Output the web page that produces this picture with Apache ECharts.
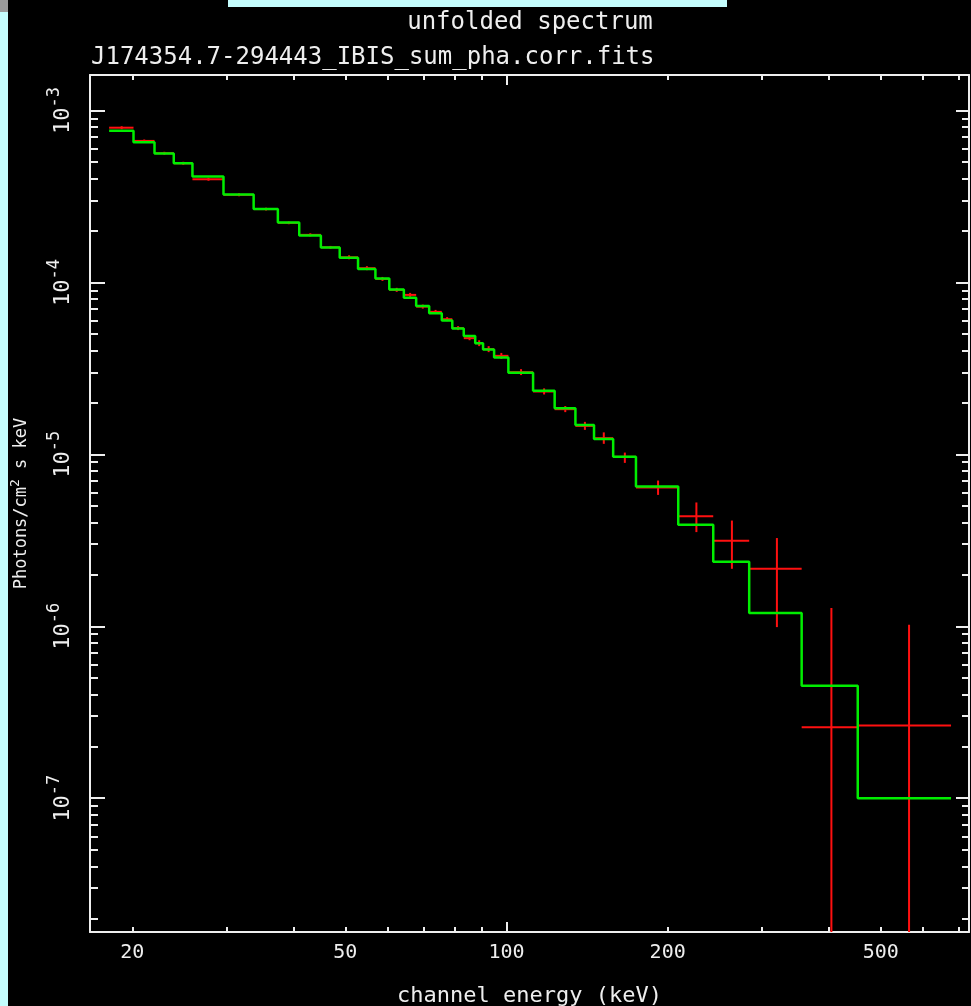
<!DOCTYPE html>
<html><head><meta charset="utf-8">
<script src="https://cdn.jsdelivr.net/npm/echarts@6/dist/echarts.min.js"></script>
<style>html,body{margin:0;padding:0;background:#000;}#c{width:971px;height:1006px;}</style>
</head><body><div id="c"></div>
<script>
// Energy bin edges (keV)
const binEdges = [18.1, 20.1, 22.0, 23.9, 25.9, 29.6, 33.7, 37.4, 41.0, 45.0, 48.8, 52.8, 56.9, 60.4, 64.3, 67.8, 71.7, 75.7, 79.2, 83.2, 87.4, 90.4, 94.8, 100.8, 112.1, 123.0, 134.5, 145.7, 158.2, 174.5, 209.3, 243.3, 284.0, 355.9, 453.0, 676.7];
// Model (green step line), photons/cm^2/s/keV per bin
const modelFlux = [7.63e-4, 6.53e-4, 5.62e-4, 4.93e-4, 4.13e-4, 3.25e-4, 2.675e-4, 2.233e-4, 1.876e-4, 1.598e-4, 1.393e-4, 1.195e-4, 1.052e-4, 9.10e-5, 8.13e-5, 7.30e-5, 6.62e-5, 6.00e-5, 5.40e-5, 4.886e-5, 4.43e-5, 4.07e-5, 3.66e-5, 2.985e-5, 2.34e-5, 1.851e-5, 1.480e-5, 1.227e-5, 9.67e-6, 6.50e-6, 3.89e-6, 2.37e-6, 1.193e-6, 4.51e-7, 1.0e-7];
// Data points (red crosses)
const dataFlux = [7.94e-4, 6.65e-4, 5.64e-4, 4.93e-4, 3.98e-4, 3.23e-4, 2.67e-4, 2.22e-4, 1.89e-4, 1.60e-4, 1.40e-4, 1.21e-4, 1.048e-4, 9.05e-5, 8.46e-5, 7.23e-5, 6.74e-5, 6.11e-5, 5.42e-5, 4.74e-5, 4.43e-5, 4.09e-5, 3.74e-5, 3.005e-5, 2.32e-5, 1.831e-5, 1.464e-5, 1.242e-5, 9.67e-6, 6.41e-6, 4.37e-6, 3.14e-6, 2.16e-6, 2.59e-7, 2.65e-7];
const dataLow = [7.78e-4, 6.52e-4, 5.53e-4, 4.83e-4, 3.90e-4, 3.17e-4, 2.62e-4, 2.18e-4, 1.85e-4, 1.57e-4, 1.363e-4, 1.178e-4, 1.020e-4, 8.81e-5, 8.24e-5, 7.04e-5, 6.56e-5, 5.95e-5, 5.28e-5, 4.61e-5, 4.26e-5, 3.93e-5, 3.59e-5, 2.89e-5, 2.23e-5, 1.76e-5, 1.388e-5, 1.151e-5, 8.92e-6, 5.81e-6, 3.53e-6, 2.16e-6, 9.89e-7, 1.0e-9, 1.0e-9];
const dataHigh = [8.10e-4, 6.78e-4, 5.75e-4, 5.03e-4, 4.06e-4, 3.30e-4, 2.72e-4, 2.26e-4, 1.93e-4, 1.63e-4, 1.438e-4, 1.243e-4, 1.076e-4, 9.30e-5, 8.69e-5, 7.43e-5, 6.92e-5, 6.28e-5, 5.57e-5, 4.87e-5, 4.61e-5, 4.26e-5, 3.89e-5, 3.13e-5, 2.42e-5, 1.91e-5, 1.545e-5, 1.342e-5, 1.024e-5, 7.04e-6, 5.25e-6, 4.12e-6, 3.26e-6, 1.276e-6, 1.02e-6];
// Axes
const xRange = [16.67, 731];
const yRange = [1.667e-8, 1.608e-3];
const xMinorTicks = [20, 30, 40, 50, 60, 70, 80, 90, 200, 300, 400, 500, 600, 700];
const xMajorTicks = [100];
const xTickLabels = [20, 50, 100, 200, 500];
const yDecades = [-8, -7, -6, -5, -4, -3];
const yMajorTicks = [1e-7, 1e-6, 1e-5, 1e-4, 1e-3];
const yMinorMultipliers = [2, 3, 4, 5, 6, 7, 8, 9];

const L = Math.log10;
const yMinorTicks = [];
yDecades.forEach(d => yMinorMultipliers.forEach(m => { const v = m * Math.pow(10, d); if (v > yRange[0] && v < yRange[1]) yMinorTicks.push(v); }));

const modelLine = binEdges.slice(0, modelFlux.length).map((e, i) => [L(e), L(modelFlux[i])]);
modelLine.push([L(binEdges[binEdges.length - 1]), L(modelFlux[modelFlux.length - 1])]);

const crosses = dataFlux.map((f, i) => {
  const lo = binEdges[i], hi = binEdges[i + 1];
  return [L(lo), L(hi), L((lo + hi) / 2), L(f), L(dataLow[i]), L(dataHigh[i])];
});

const FG = '#eeeeee';
const FONT = 'DejaVu Sans Mono';
const lineAx = {show: true, onZero: false, lineStyle: {color: FG, width: 2}};
function xAx(pos, ticks, len, showLine, labels) {
  return {
    type: 'value', position: pos, min: L(xRange[0]), max: L(xRange[1]),
    axisLine: showLine ? lineAx : {show: false, onZero: false},
    splitLine: {show: false},
    axisTick: {show: true, inside: true, length: len, customValues: ticks.map(L), lineStyle: {color: FG, width: 2}},
    axisLabel: labels ? {show: true, customValues: labels.map(L), margin: 11, color: FG, fontFamily: FONT, fontSize: 20,
      formatter: v => String(Math.round(Math.pow(10, v)))} : {show: false}
  };
}
function yAx(pos, ticks, len, showLine, labels) {
  return {
    type: 'value', position: pos, min: L(yRange[0]), max: L(yRange[1]),
    axisLine: showLine ? lineAx : {show: false, onZero: false},
    splitLine: {show: false},
    axisTick: {show: true, inside: true, length: len, customValues: ticks.map(L), lineStyle: {color: FG, width: 2}},
    axisLabel: labels ? {show: true, customValues: labels.map(L), rotate: 90, margin: 9, color: FG, fontFamily: FONT,
      formatter: v => '{b|10}{s|' + Math.round(v) + '}',
      rich: {b: {fontSize: 22, fontFamily: FONT, color: FG}, s: {fontSize: 17, fontFamily: FONT, color: FG, verticalAlign: 'bottom', padding: [0, 0, 18, 0]}}} : {show: false}
  };
}

const xAxes = [xAx('bottom', xMinorTicks, 5, true, xTickLabels), xAx('bottom', xMajorTicks, 10, false, null),
               xAx('top', xMinorTicks, 5, true, null), xAx('top', xMajorTicks, 10, false, null)];
xAxes[0].name = 'channel energy (keV)';
xAxes[0].nameLocation = 'middle';
xAxes[0].nameGap = 53;
xAxes[0].nameTextStyle = {color: FG, fontFamily: FONT, fontSize: 22};

const yAxes = [yAx('left', yMinorTicks, 8, true, null), yAx('left', yMajorTicks, 15, false, yMajorTicks),
               yAx('right', yMinorTicks, 7, true, null), yAx('right', yMajorTicks, 13, false, null)];
yAxes[1].name = '{n|Photons/cm}{p|2}{n| s keV}';
yAxes[1].nameLocation = 'middle';
yAxes[1].nameGap = 56;
yAxes[1].nameTextStyle = {color: FG, rich: {n: {fontSize: 17, fontFamily: FONT, color: FG}, p: {fontSize: 13, fontFamily: FONT, color: FG, verticalAlign: 'bottom', padding: [0, 0, 12, 0]}}};

const chart = echarts.init(document.getElementById('c'), null, {renderer: 'canvas'});
chart.setOption({
  backgroundColor: '#000000',
  animation: false,
  grid: {left: 90, right: 2, top: 75, bottom: 74, containLabel: false, outerBoundsMode: 'none'},
  xAxis: xAxes,
  yAxis: yAxes,
  graphic: [
    {type: 'rect', shape: {x: 0, y: 0, width: 8, height: 1006}, style: {fill: '#c4fcfc'}},
    {type: 'rect', shape: {x: 0, y: 0, width: 8, height: 12}, style: {fill: '#9a9a9a'}},
    {type: 'rect', shape: {x: 228, y: 0, width: 499, height: 7}, style: {fill: '#c4fcfc'}},
    {type: 'text', x: 530, y: 23, style: {text: 'unfolded spectrum', fill: FG, font: '24px "DejaVu Sans Mono"', align: 'center', verticalAlign: 'middle', textAlign: 'center', textVerticalAlign: 'middle'}},
    {type: 'text', x: 91, y: 58, style: {text: 'J174354.7-294443_IBIS_sum_pha.corr.fits', fill: FG, font: '24px "DejaVu Sans Mono"', align: 'left', verticalAlign: 'middle', textAlign: 'left', textVerticalAlign: 'middle'}}
  ],
  series: [
    {
      type: 'custom', name: 'data', xAxisIndex: 0, yAxisIndex: 0, clip: true, z: 2,
      data: crosses,
      encode: {x: [0, 1, 2], y: [3, 4, 5]},
      renderItem: function (params, api) {
        const a = api.coord([api.value(0), api.value(3)]);
        const b = api.coord([api.value(1), api.value(3)]);
        const c = api.coord([api.value(2), api.value(4)]);
        const d = api.coord([api.value(2), api.value(5)]);
        const st = {stroke: '#ff1010', lineWidth: 2};
        return {type: 'group', children: [
          {type: 'line', shape: {x1: a[0], y1: a[1], x2: b[0], y2: b[1]}, style: st},
          {type: 'line', shape: {x1: c[0], y1: c[1], x2: d[0], y2: d[1]}, style: st}
        ]};
      }
    },
    {
      type: 'line', name: 'model', xAxisIndex: 0, yAxisIndex: 0, step: 'end', showSymbol: false, symbol: 'none', z: 3,
      data: modelLine, lineStyle: {color: '#00ee00', width: 2.5}
    }
  ]
});
</script>
</body></html>
